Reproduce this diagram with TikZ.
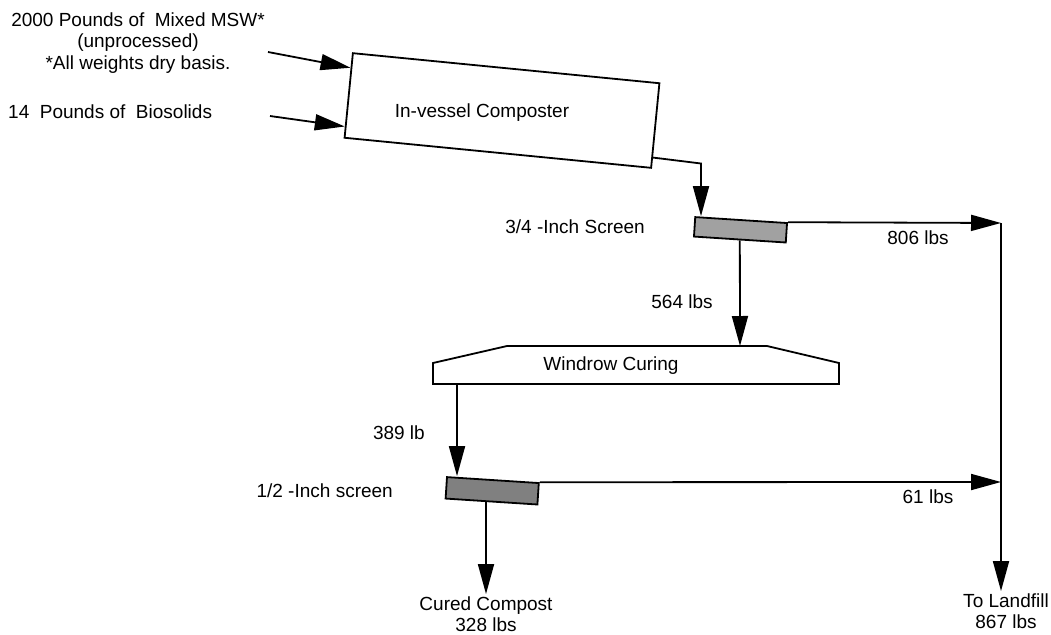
\documentclass[tikz,border=0pt]{standalone}
\usepackage{fontspec}
\setmainfont{Liberation Sans}
\usetikzlibrary{positioning,arrows.meta,calc}

\begin{document}
\begin{tikzpicture}[
  x=1pt, y=-1pt,
  font=\fontsize{19}{21.5}\selectfont,
  lbl/.style={inner sep=0pt, align=center},
  unitbox/.style={draw=black, line width=1.8pt, fill=white, inner sep=0pt},
  screenA/.style={draw=black, line width=1.8pt, fill=black!37, inner sep=0pt},
  screenB/.style={draw=black, line width=1.8pt, fill=black!50, inner sep=0pt},
  flow/.style={draw=black, line width=1.8pt, -{Triangle[length=30pt,width=16pt]}},
  plainline/.style={draw=black, line width=1.8pt}
]
\useasboundingbox (0,0) rectangle (1051,634);

\node[unitbox, rotate=-5.6, minimum width=308pt, minimum height=85pt] (comp) at (502,110.5) {};
\node[lbl] (compl) at (482,113) {In-vessel Composter};
\node[screenA, rotate=-3.7, minimum width=92pt, minimum height=19.5pt] (scr1) at (740.5,229.8) {};
\node[screenB, rotate=-3.7, minimum width=92pt, minimum height=21.5pt] (scr2) at (492.2,490.8) {};
\draw[unitbox] (433,384) -- (433,363) -- (507,346) -- (767,346) -- (839,363) -- (839,384) -- cycle;
\node[lbl] (wind) at (611,366) {Windrow Curing};

\node[lbl] (msw) at (138,43) {2000 Pounds of~ Mixed MSW*\\(unprocessed)\\*All weights dry basis.};
\node[lbl, anchor=west] (bio) at (8,112) {14~ Pounds of~ Biosolids};
\node[lbl, anchor=east] (scr1l) at (645,227) {3/4 -Inch Screen};
\node[lbl, anchor=east] (scr2l) at (393,491) {1/2 -Inch screen};
\node[lbl, inner sep=2pt] (compost) at (486,614) {Cured Compost\\328 lbs};
\node[lbl, inner sep=2pt] (landfill) at (1006,611) {To Landfill\\867 lbs};

\coordinate (in1) at (268,52);
\coordinate (in2) at (270,116);
\coordinate (bend) at (701,163.5);
\coordinate (windin) at (740,346);
\coordinate (windout) at (457,384);
\coordinate (lf1) at (1001,223);
\coordinate (lf2) at (1001,482);

\draw[flow] (in1) -- ($(comp.north west)!0.18!(comp.south west)$);
\draw[flow] (in2) -- ($(comp.north west)!0.86!(comp.south west)$);
\draw[flow] ($(comp.north east)!0.87!(comp.south east)$) -- (bend) -- (bend |- scr1.north west);
\draw[flow] (scr1.north east) -- (lf1);
\draw[flow] (scr1.south) -- (windin);
\draw[flow] (windout) -- (windout |- scr2.north west);
\draw[flow] (scr2.north east) -- (lf2);
\draw[flow] (scr2.south -| compost) -- (compost.north);
\draw[plainline] (lf1) -- (lf2);
\draw[flow] (lf2) -- (lf2 |- landfill.north);

\node[lbl] at (918,238) {806 lbs};
\node[lbl] at (682,302) {564 lbs};
\node[lbl, anchor=east] at (425,433) {389 lb};
\node[lbl] at (928,497) {61 lbs};

\end{tikzpicture}
\end{document}
